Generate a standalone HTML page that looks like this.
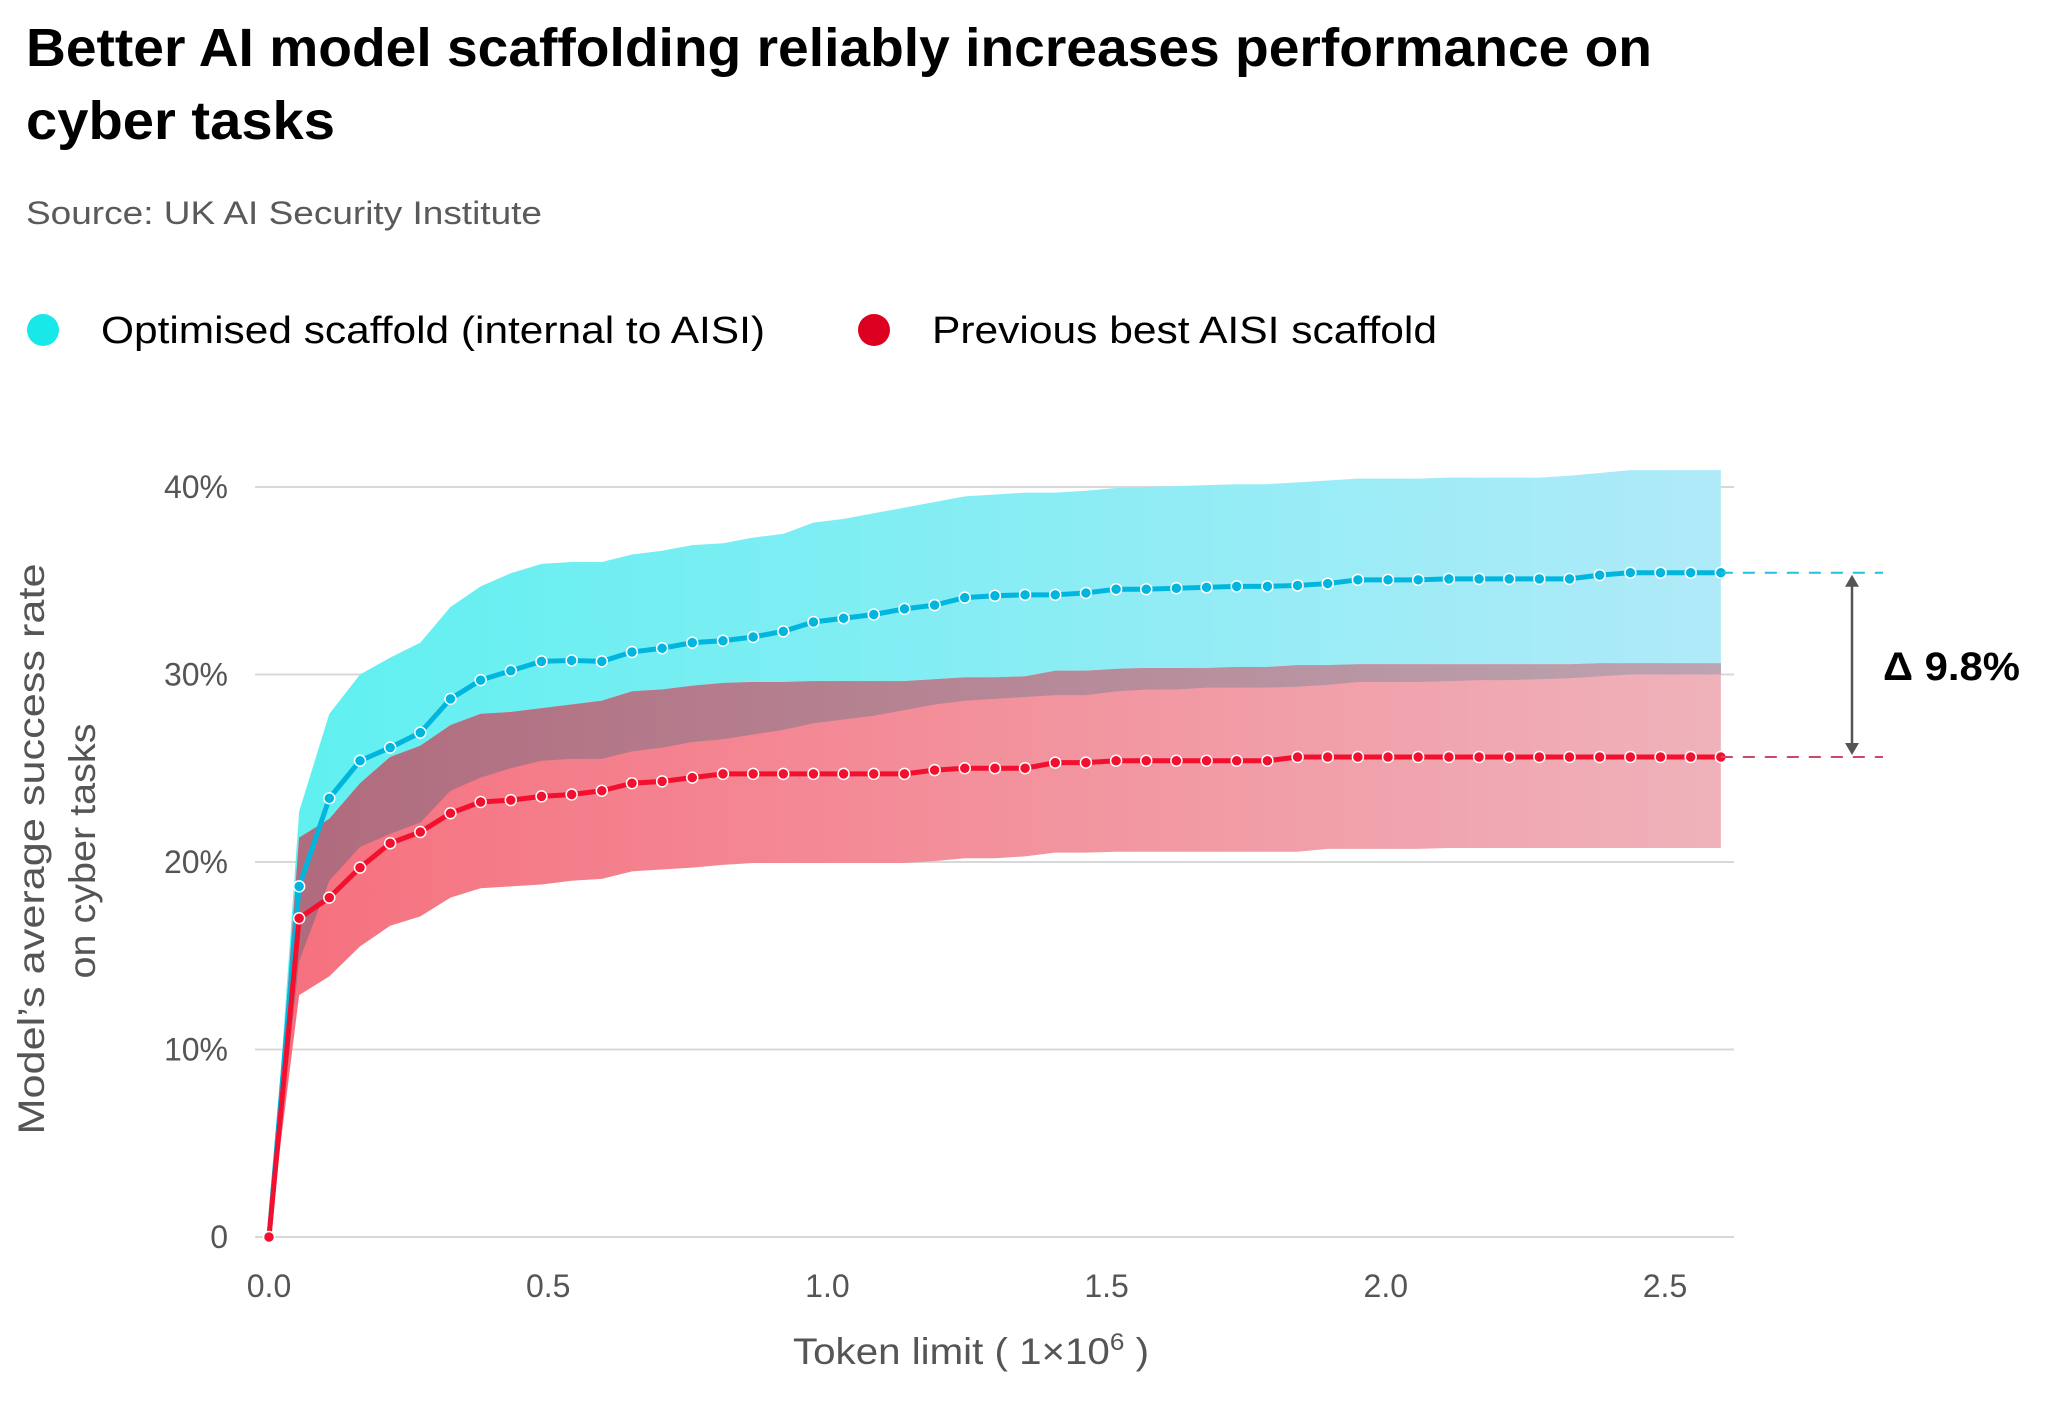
<!DOCTYPE html>
<html><head><meta charset="utf-8"><style>
html,body{margin:0;padding:0;background:#fff;}
svg{display:block;font-family:"Liberation Sans",sans-serif;}
</style></head><body>
<svg id="chart" width="2048" height="1424" viewBox="0 0 2048 1424" xmlns="http://www.w3.org/2000/svg">
<defs>
<linearGradient id="gBlue" x1="269" x2="1719" y1="0" y2="0" gradientUnits="userSpaceOnUse"><stop offset="0" stop-color="#5ef0f0"/><stop offset="1" stop-color="#b0eaf8"/></linearGradient>
<linearGradient id="gRed" x1="269" x2="1719" y1="0" y2="0" gradientUnits="userSpaceOnUse"><stop offset="0" stop-color="#f6707e"/><stop offset="1" stop-color="#efb2ba"/></linearGradient>
<linearGradient id="gMix" x1="269" x2="1719" y1="0" y2="0" gradientUnits="userSpaceOnUse"><stop offset="0" stop-color="#b06a7c"/><stop offset="1" stop-color="#bca4b0"/></linearGradient>
</defs>
<text x="26" y="66" font-size="54" font-weight="bold" fill="#000" textLength="1626" lengthAdjust="spacingAndGlyphs">Better AI model scaffolding reliably increases performance on</text>
<text x="26" y="139" font-size="54" font-weight="bold" fill="#000" textLength="309" lengthAdjust="spacingAndGlyphs">cyber tasks</text>
<text x="26" y="224" font-size="32" fill="#5a5a5a" textLength="516" lengthAdjust="spacingAndGlyphs">Source: UK AI Security Institute</text>
<g>
<g><circle cx="43" cy="330" r="16" fill="#18e8e8"/><text x="101" y="343" font-size="38" fill="#000" textLength="664" lengthAdjust="spacingAndGlyphs">Optimised scaffold (internal to AISI)</text></g>
<g><circle cx="874" cy="330" r="16" fill="#dc0020"/><text x="932" y="343" font-size="38" fill="#000" textLength="505" lengthAdjust="spacingAndGlyphs">Previous best AISI scaffold</text></g>
</g>
<g id="grid"></g>
<g id="bands"></g>
<g id="lines"></g>
<g id="axes"></g>
<text transform="translate(44,849) rotate(-90)" text-anchor="middle" font-size="37" fill="#555" textLength="571" lengthAdjust="spacingAndGlyphs">Model’s average success rate</text>
<text transform="translate(95,851) rotate(-90)" text-anchor="middle" font-size="37" fill="#555" textLength="255" lengthAdjust="spacingAndGlyphs">on cyber tasks</text>
<text x="793" y="1364" font-size="37" fill="#555" textLength="356" lengthAdjust="spacingAndGlyphs">Token limit ( 1×10<tspan dy="-14" font-size="24">6</tspan><tspan dy="14"> )</tspan></text>
<g id="annot"></g>
</svg>
<script>
const tokens=[0,0.054,0.108,0.163,0.217,0.271,0.325,0.379,0.433,0.488,0.542,0.596,0.650,0.704,0.758,0.813,0.867,0.921,0.975,1.029,1.083,1.138,1.192,1.246,1.300,1.354,1.408,1.463,1.517,1.571,1.625,1.679,1.733,1.788,1.842,1.896,1.950,2.004,2.058,2.113,2.167,2.221,2.275,2.329,2.383,2.438,2.492,2.546,2.600];
const blueMean=[0,18.7,23.4,25.4,26.1,26.9,28.7,29.7,30.2,30.7,30.75,30.7,31.2,31.4,31.7,31.8,32.0,32.3,32.8,33.0,33.2,33.5,33.7,34.1,34.2,34.25,34.25,34.35,34.55,34.55,34.6,34.65,34.7,34.7,34.75,34.85,35.05,35.05,35.05,35.1,35.1,35.1,35.1,35.1,35.3,35.43,35.43,35.43,35.43];
const blueHigh=[0,22.7,27.9,30.0,30.9,31.7,33.6,34.7,35.4,35.9,36.0,36.0,36.4,36.6,36.9,37.0,37.3,37.5,38.1,38.3,38.6,38.9,39.2,39.5,39.6,39.7,39.7,39.8,39.95,40.0,40.05,40.1,40.15,40.15,40.25,40.35,40.45,40.45,40.45,40.5,40.5,40.5,40.5,40.6,40.75,40.9,40.9,40.9,40.9];
const blueLow=[0,14.7,19.0,20.8,21.5,22.1,23.8,24.5,25.0,25.4,25.5,25.5,25.9,26.1,26.4,26.55,26.8,27.05,27.4,27.6,27.8,28.1,28.4,28.6,28.7,28.8,28.9,28.9,29.1,29.2,29.2,29.3,29.3,29.3,29.35,29.45,29.6,29.6,29.6,29.65,29.7,29.7,29.75,29.8,29.9,30.0,30.0,30.0,30.0];
const redMean=[0,17.0,18.1,19.7,21.0,21.6,22.6,23.2,23.3,23.5,23.6,23.8,24.2,24.3,24.5,24.7,24.7,24.7,24.7,24.7,24.7,24.7,24.9,25.0,25.0,25.0,25.3,25.3,25.4,25.4,25.4,25.4,25.4,25.4,25.6,25.6,25.6,25.6,25.6,25.6,25.6,25.6,25.6,25.6,25.6,25.6,25.6,25.6,25.6];
const redHigh=[0,21.3,22.3,24.2,25.6,26.2,27.3,27.9,28.0,28.2,28.4,28.6,29.1,29.2,29.4,29.55,29.6,29.6,29.65,29.65,29.65,29.65,29.75,29.85,29.85,29.9,30.2,30.2,30.3,30.35,30.35,30.35,30.4,30.4,30.5,30.5,30.55,30.55,30.55,30.55,30.55,30.55,30.55,30.55,30.6,30.6,30.6,30.6,30.6];
const redLow=[0,12.9,13.9,15.5,16.6,17.1,18.1,18.6,18.7,18.8,19.0,19.1,19.5,19.6,19.7,19.85,19.95,19.95,19.95,19.95,19.95,19.95,20.05,20.2,20.2,20.3,20.5,20.5,20.55,20.55,20.55,20.55,20.55,20.55,20.55,20.7,20.7,20.7,20.7,20.75,20.75,20.75,20.75,20.75,20.75,20.75,20.75,20.75,20.75];
const yTicks=[0,10,20,30,40];
const yTickLabels=["0","10%","20%","30%","40%"];
const xTicks=[0,0.5,1.0,1.5,2.0,2.5];
const xTickLabels=["0.0","0.5","1.0","1.5","2.0","2.5"];
const deltaLabel="Δ 9.8%";

const NS="http://www.w3.org/2000/svg";
const X=v=>269+v*(1665-269)/2.5;
const Y=v=>1237-v*18.75;
function mk(tag,attrs,parent){const e=document.createElementNS(NS,tag);for(const k in attrs)e.setAttribute(k,attrs[k]);parent.appendChild(e);return e;}
const grid=document.getElementById('grid'),axes=document.getElementById('axes'),bands=document.getElementById('bands'),lines=document.getElementById('lines'),annot=document.getElementById('annot');
yTicks.forEach((t,i)=>{
  const l=mk('line',{x1:255,x2:1734,y1:Y(t),y2:Y(t),stroke:'#d8d8d8','stroke-width':2},grid);
  
  
  const tx=mk('text',{x:228,y:Y(t)+11,'text-anchor':'end','font-size':32,fill:'#555'},axes);
  tx.textContent=yTickLabels[i];
  
  
});
xTicks.forEach((t,i)=>{
  const tx=mk('text',{x:X(t),y:1297,'text-anchor':'middle','font-size':32,fill:'#555'},axes);
  tx.textContent=xTickLabels[i];
  
  
});
function band(hi,lo,fill,name){
  let d='M'+tokens.map((t,i)=>X(t)+','+Y(hi[i])).join('L');
  d+='L'+tokens.map((t,i)=>[X(t),Y(lo[i])]).reverse().map(p=>p.join(',')).join('L')+'Z';
  const p=mk('path',{d:d,fill:fill},bands);
  
  
}
band(blueHigh,blueLow,'url(#gBlue)','band-optimised');
band(redHigh,redLow,'url(#gRed)','band-previous');
const ovHi=tokens.map((t,i)=>Math.min(blueHigh[i],redHigh[i]));
const ovLo=tokens.map((t,i)=>Math.min(Math.max(blueLow[i],redLow[i]),Math.min(blueHigh[i],redHigh[i])));
band(ovHi,ovLo,'url(#gMix)','band-overlap');
function series(vals,color,name){
  const p=mk('polyline',{points:tokens.map((t,i)=>X(t)+','+Y(vals[i])).join(' '),fill:'none',stroke:color,'stroke-width':5,'stroke-linejoin':'round'},lines);
  
  
  tokens.forEach((t,i)=>{
    const c=mk('circle',{cx:X(t),cy:Y(vals[i]),r:5.5,fill:color,stroke:'#fff','stroke-width':1.5},lines);
    
    
  });
}
series(blueMean,'#00b6de','optimised');
series(redMean,'#f3102e','previous');
const last=tokens.length-1;
const yb=Y(blueMean[last]),yr=Y(redMean[last]);
const d1=mk('line',{x1:X(tokens[last]),x2:1883,y1:yb,y2:yb,stroke:'#20c0e0','stroke-width':2,'stroke-dasharray':'12 10'},annot);


const d2=mk('line',{x1:X(tokens[last]),x2:1883,y1:yr,y2:yr,stroke:'#c84a66','stroke-width':2,'stroke-dasharray':'12 10'},annot);


const ar=mk('line',{x1:1852,x2:1852,y1:yb+10,y2:yr-10,stroke:'#555','stroke-width':2.5},annot);


const h1=mk('path',{d:`M1845,${yb+14}L1852,${yb+2}L1859,${yb+14}Z`,fill:'#555'},annot);


const h2=mk('path',{d:`M1845,${yr-14}L1852,${yr-2}L1859,${yr-14}Z`,fill:'#555'},annot);


const dl=mk('text',{x:1883,y:(yb+yr)/2+15,'font-size':40,'font-weight':'bold',fill:'#000',textLength:137,lengthAdjust:'spacingAndGlyphs'},annot);
dl.textContent=deltaLabel;


</script>
</body></html>
